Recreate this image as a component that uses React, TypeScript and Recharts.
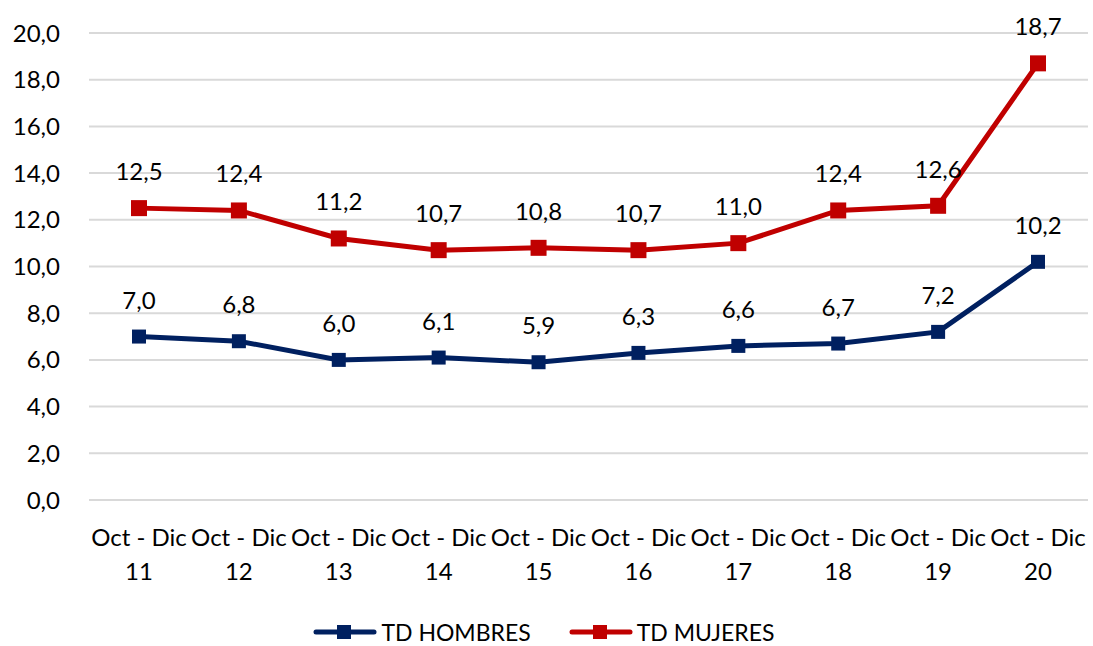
import { LineChart, Line, XAxis, YAxis, CartesianGrid, Legend, LabelList } from 'recharts'

const periods = ['Oct - Dic 11', 'Oct - Dic 12', 'Oct - Dic 13', 'Oct - Dic 14', 'Oct - Dic 15', 'Oct - Dic 16', 'Oct - Dic 17', 'Oct - Dic 18', 'Oct - Dic 19', 'Oct - Dic 20']
const hombres = [7.0, 6.8, 6.0, 6.1, 5.9, 6.3, 6.6, 6.7, 7.2, 10.2]
const mujeres = [12.5, 12.4, 11.2, 10.7, 10.8, 10.7, 11.0, 12.4, 12.6, 18.7]
const yTicks = [0, 2, 4, 6, 8, 10, 12, 14, 16, 18, 20]

const NAVY = '#002060'
const RED = '#C00000'
const FONT = 'Lato, "Open Sans", sans-serif'
const FS = 24

const data = periods.map((p, i) => ({ period: p, hombres: hombres[i], mujeres: mujeres[i] }))

const fmt = (v: number) => v.toFixed(1).replace('.', ',')

function squareDot(size: number, color: string) {
  return (props: any) => {
    const { cx, cy, index } = props
    if (cx == null || cy == null) return <g key={index} />
    return <rect key={index} x={cx - size / 2} y={cy - size / 2} width={size} height={size} fill={color} />
  }
}

function PeriodTick(props: any) {
  const { x, y, payload } = props
  const s: string = payload.value
  const cut = s.lastIndexOf(' ')
  return (
    <text x={x} y={y} textAnchor="middle" fontSize={FS} fontFamily={FONT} fill="#000">
      <tspan x={x} dy={38}>{s.slice(0, cut)}</tspan>
      <tspan x={x} dy={34}>{s.slice(cut + 1)}</tspan>
    </text>
  )
}

function LegendBox() {
  const items = [
    { name: 'TD HOMBRES', color: NAVY },
    { name: 'TD MUJERES', color: RED },
  ]
  return (
    <div style={{ display: 'flex', justifyContent: 'center', gap: 38, fontFamily: FONT, fontSize: FS - 1 }}>
      {items.map((it) => (
        <div key={it.name} style={{ display: 'flex', alignItems: 'center' }}>
          <svg width={64} height={16} style={{ marginRight: 4 }}>
            <line x1={3} y1={8} x2={61} y2={8} stroke={it.color} strokeWidth={5} strokeLinecap="round" />
            <rect x={24} y={1} width={14} height={14} fill={it.color} />
          </svg>
          <span>{it.name}</span>
        </div>
      ))}
    </div>
  )
}

export default function App() {
  return (
    <div style={{ position: 'absolute', left: 0, top: 0, background: '#fff' }}>
      <LineChart width={1093} height={646} data={data} margin={{ top: 33, right: 5, left: 0, bottom: 0 }}>
        <CartesianGrid vertical={false} stroke="#d9d9d9" strokeWidth={2} />
        <XAxis
          dataKey="period"
          axisLine={false}
          tickLine={false}
          interval={0}
          tick={<PeriodTick />}
          padding={{ left: 50, right: 50 }}
          height={118}
        />
        <YAxis
          domain={[0, 20]}
          ticks={yTicks}
          tickFormatter={fmt}
          axisLine={false}
          tickLine={false}
          tickSize={0}
          tickMargin={29}
          width={89}
          tick={{ fill: '#000', fontSize: FS, fontFamily: FONT }}
        />
        <Legend verticalAlign="bottom" content={<LegendBox />} />
        <Line
          dataKey="hombres"
          name="TD HOMBRES"
          stroke={NAVY}
          strokeWidth={5}
          dot={squareDot(14, NAVY)}
          activeDot={false}
          isAnimationActive={false}
        >
          <LabelList dataKey="hombres" position="top" offset={28} formatter={(v: any) => fmt(Number(v))} style={{ fill: '#000', fontSize: FS, fontFamily: FONT }} />
        </Line>
        <Line
          dataKey="mujeres"
          name="TD MUJERES"
          stroke={RED}
          strokeWidth={5}
          dot={squareDot(16, RED)}
          activeDot={false}
          isAnimationActive={false}
        >
          <LabelList dataKey="mujeres" position="top" offset={28} formatter={(v: any) => fmt(Number(v))} style={{ fill: '#000', fontSize: FS, fontFamily: FONT }} />
        </Line>
      </LineChart>
    </div>
  )
}
